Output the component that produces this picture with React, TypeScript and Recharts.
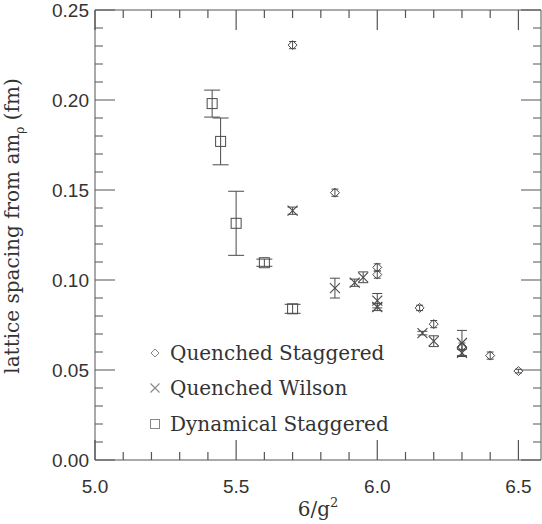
import React from 'react';
import { ScatterChart, Scatter, XAxis, YAxis, ErrorBar, Label } from 'recharts';

// Quenched staggered (diamonds)
const stagX = [5.7, 5.85, 6.0, 6.0, 6.15, 6.2, 6.3, 6.4, 6.5];
const stagY = [0.2305, 0.1485, 0.107, 0.103, 0.0845, 0.0755, 0.063, 0.058, 0.0494];
const stagErr = [0.002, 0.002, 0.002, 0.002, 0.0015, 0.002, 0.002, 0.002, 0.001];

// Quenched Wilson (crosses)
const wilsonX = [5.7, 5.85, 5.92, 5.95, 6.0, 6.0, 6.16, 6.2, 6.3, 6.3];
const wilsonY = [0.1385, 0.0955, 0.0985, 0.1015, 0.0885, 0.085, 0.0705, 0.066, 0.065, 0.0595];
const wilsonErr = [0.002, 0.0055, 0.002, 0.003, 0.004, 0.002, 0.001, 0.003, 0.007, 0.002];

// Dynamical staggered (squares)
const dynX = [5.415, 5.445, 5.5, 5.6, 5.7];
const dynY = [0.198, 0.177, 0.1315, 0.1096, 0.084];
const dynErr = [0.0075, 0.013, 0.0178, 0.002, 0.0025];

const xTicks = [5.0, 5.1, 5.2, 5.3, 5.4, 5.5, 5.6, 5.7, 5.8, 5.9, 6.0, 6.1, 6.2, 6.3, 6.4, 6.5];
const xMajor = [5.0, 5.5, 6.0, 6.5];
const yTicks = [
  0, 0.01, 0.02, 0.03, 0.04, 0.05, 0.06, 0.07, 0.08, 0.09, 0.1, 0.11, 0.12, 0.13,
  0.14, 0.15, 0.16, 0.17, 0.18, 0.19, 0.2, 0.21, 0.22, 0.23, 0.24, 0.25,
];
const yMajor = [0, 0.05, 0.1, 0.15, 0.2, 0.25];

const seriesNames = ['Quenched Staggered', 'Quenched Wilson', 'Dynamical Staggered'];

const X_DOMAIN = [5, 6.58];
const Y_DOMAIN = [0, 0.25];

// plot box produced by the margins/axis sizes below
const W = 542;
const H = 524;
const LEFT = 95;
const TOP = 10;
const RIGHT = W - 1;
const BOTTOM = H - 64;

const toRows = (xs: number[], ys: number[], errs: number[]) =>
  xs.map((x, i) => ({ x, y: ys[i], err: errs[i] }));

const stagData = toRows(stagX, stagY, stagErr);
const wilsonData = toRows(wilsonX, wilsonY, wilsonErr);
const dynData = toRows(dynX, dynY, dynErr);

const INK = '#4a4a4a';
const FRAME = '#555';
const SERIF = '"DejaVu Serif", serif';
const SANS = '"Liberation Sans", Arial, sans-serif';

const Diamond = ({ cx, cy, color = INK, r = 4.5 }: any) => (
  <path
    d={`M${cx},${cy - r}L${cx + r},${cy}L${cx},${cy + r}L${cx - r},${cy}Z`}
    fill="none"
    stroke={color}
    strokeWidth={1}
  />
);

const Cross = ({ cx, cy, color = INK, r = 5 }: any) => (
  <path
    d={`M${cx - r},${cy - r}L${cx + r},${cy + r}M${cx - r},${cy + r}L${cx + r},${cy - r}`}
    fill="none"
    stroke={color}
    strokeWidth={1.1}
  />
);

const Square = ({ cx, cy, color = INK, r = 5 }: any) => (
  <rect x={cx - r} y={cy - r} width={2 * r} height={2 * r} fill="none" stroke={color} strokeWidth={1} />
);

const XTickLabel = (props: any) => {
  const v = props.payload.value;
  if (!xMajor.includes(v)) return <g />;
  return (
    <text x={props.x} y={Number(props.y) + 33} textAnchor="middle" fontFamily={SANS} fontSize={19} fill="#333">
      {v.toFixed(1)}
    </text>
  );
};

const YTickLabel = (props: any) => {
  const v = props.payload.value;
  if (!yMajor.includes(v)) return <g />;
  return (
    <text x={Number(props.x) - 6} y={Number(props.y) + 7} textAnchor="end" fontFamily={SANS} fontSize={19} fill="#333">
      {v.toFixed(2)}
    </text>
  );
};

const YTitle = ({ viewBox }: any) => {
  const cx = viewBox.x + 19;
  const cy = 226;
  return (
    <text
      x={cx}
      y={cy}
      transform={`rotate(-90 ${cx} ${cy})`}
      textAnchor="middle"
      fontFamily={SERIF}
      fontSize={20}
      fill="#333"
    >
      lattice spacing from am
      <tspan fontSize={12} dy={5}>ρ</tspan>
      <tspan dy={-5}> (fm)</tspan>
    </text>
  );
};

const XTitle = ({ viewBox }: any) => {
  const cx = viewBox.x + viewBox.width / 2;
  return (
    <text x={cx} y={viewBox.y + 56} textAnchor="middle" fontFamily={SERIF} fontSize={20} fill="#333">
      6/g
      <tspan fontSize={13} dy={-9}>2</tspan>
    </text>
  );
};

const legendSymbols: Record<string, any> = {
  'Quenched Staggered': Diamond,
  'Quenched Wilson': Cross,
  'Dynamical Staggered': Square,
};

const LegendBox = () => (
  <div style={{ position: 'absolute', left: 140, top: 335, fontFamily: SERIF, fontSize: 20, color: '#333' }}>
    {seriesNames.map((name) => {
      const Sym = legendSymbols[name];
      return (
        <div key={name} style={{ display: 'flex', alignItems: 'center', height: 35.5, whiteSpace: 'nowrap' }}>
          <svg width={30} height={20} style={{ flex: 'none' }}>
            <Sym cx={15} cy={10} color="#888" r={name === 'Quenched Staggered' ? 4 : 4.5} />
          </svg>
          <span>{name}</span>
        </div>
      );
    })}
  </div>
);

// inward minor/major tick marks on all four sides of the frame
const sx = (v: number) => LEFT + ((v - X_DOMAIN[0]) / (X_DOMAIN[1] - X_DOMAIN[0])) * (RIGHT - LEFT);
const sy = (v: number) => BOTTOM - ((v - Y_DOMAIN[0]) / (Y_DOMAIN[1] - Y_DOMAIN[0])) * (BOTTOM - TOP);

const FrameTicks = () => {
  const parts: string[] = [];
  xTicks.forEach((v) => {
    const len = xMajor.includes(v) ? 20 : 8;
    const x = sx(v);
    parts.push(`M${x},${BOTTOM}V${BOTTOM - len}`, `M${x},${TOP}V${TOP + len}`);
  });
  yTicks.forEach((v) => {
    const len = yMajor.includes(v) ? 20 : 8;
    const y = sy(v);
    parts.push(`M${LEFT},${y}H${LEFT + len}`, `M${RIGHT},${y}H${RIGHT - len}`);
  });
  return (
    <svg
      width={W}
      height={H}
      style={{ position: 'absolute', left: 0, top: 0, pointerEvents: 'none' }}
    >
      <path d={parts.join('')} stroke={FRAME} strokeWidth={1.2} fill="none" />
    </svg>
  );
};

export default function App() {
  return (
    <div style={{ position: 'absolute', left: 0, top: 0, width: W, height: H }}>
      <ScatterChart width={W} height={H} margin={{ top: 0, right: 0, bottom: 0, left: 0 }}>
        <XAxis
          xAxisId="top"
          orientation="top"
          type="number"
          dataKey="x"
          domain={X_DOMAIN}
          ticks={xTicks}
          interval={0}
          height={TOP}
          tick={false}
          tickLine={false}
          axisLine={{ stroke: FRAME }}
          allowDataOverflow
        />
        <XAxis
          xAxisId="bottom"
          type="number"
          dataKey="x"
          domain={X_DOMAIN}
          ticks={xTicks}
          interval={0}
          height={H - BOTTOM}
          tickSize={0}
          tickMargin={0}
          tickLine={false}
          tick={XTickLabel}
          axisLine={{ stroke: FRAME }}
          allowDataOverflow
          label={<Label content={XTitle} />}
        />
        <YAxis
          yAxisId="left"
          type="number"
          dataKey="y"
          domain={Y_DOMAIN}
          ticks={yTicks}
          interval={0}
          width={LEFT}
          tickSize={0}
          tickMargin={0}
          tickLine={false}
          tick={YTickLabel}
          axisLine={{ stroke: FRAME }}
          allowDataOverflow
          label={<Label content={YTitle} />}
        />
        <YAxis
          yAxisId="right"
          orientation="right"
          type="number"
          dataKey="y"
          domain={Y_DOMAIN}
          ticks={yTicks}
          interval={0}
          width={W - RIGHT}
          tick={false}
          tickLine={false}
          axisLine={{ stroke: FRAME }}
          allowDataOverflow
        />
        <Scatter
          name={seriesNames[0]}
          data={stagData}
          xAxisId="bottom"
          yAxisId="left"
          shape={(p: any) => <Diamond cx={p.cx} cy={p.cy} />}
          isAnimationActive={false}
        >
          <ErrorBar dataKey="err" direction="y" width={3.5} stroke={INK} strokeWidth={1} isAnimationActive={false} />
        </Scatter>
        <Scatter
          name={seriesNames[1]}
          data={wilsonData}
          xAxisId="bottom"
          yAxisId="left"
          shape={(p: any) => <Cross cx={p.cx} cy={p.cy} />}
          isAnimationActive={false}
        >
          <ErrorBar dataKey="err" direction="y" width={5} stroke={INK} strokeWidth={1} isAnimationActive={false} />
        </Scatter>
        <Scatter
          name={seriesNames[2]}
          data={dynData}
          xAxisId="bottom"
          yAxisId="left"
          shape={(p: any) => <Square cx={p.cx} cy={p.cy} />}
          isAnimationActive={false}
        >
          <ErrorBar dataKey="err" direction="y" width={8} stroke={INK} strokeWidth={1} isAnimationActive={false} />
        </Scatter>
      </ScatterChart>
      <FrameTicks />
      <LegendBox />
    </div>
  );
}
